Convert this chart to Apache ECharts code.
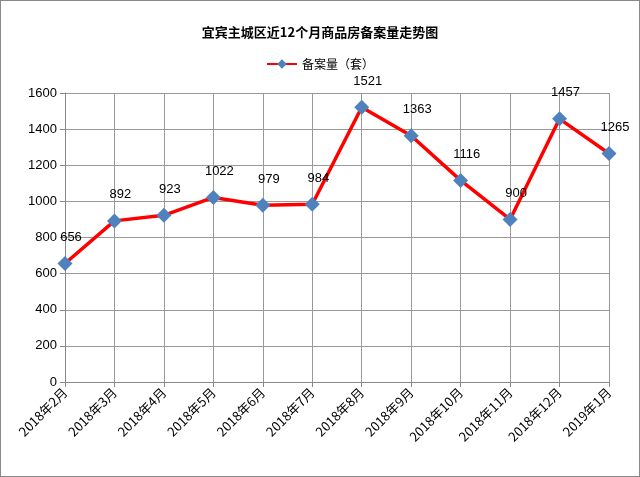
<!DOCTYPE html>
<html><head><meta charset="utf-8">
<script src="https://cdn.jsdelivr.net/npm/echarts@6/dist/echarts.min.js"></script>
<style>html,body{margin:0;padding:0;background:#fff}#c{width:638px;height:475px;border:1px solid #888}</style>
</head><body><div id="c"></div>
<script>
var categories=["2018年2月","2018年3月","2018年4月","2018年5月","2018年6月","2018年7月","2018年8月","2018年9月","2018年10月","2018年11月","2018年12月","2019年1月"];
var values=[656,892,923,1022,979,984,1521,1363,1116,900,1457,1265];
var seriesName="备案量（套）";
var chart=echarts.init(document.getElementById('c'));
chart.setOption({
  animation:false,
  title:{text:"宜宾主城区近12个月商品房备案量走势图",left:'center',top:20,textStyle:{fontSize:13,fontWeight:'bold',color:'#000',fontFamily:'Noto Sans CJK SC'}},
  legend:{top:52,left:'center',itemWidth:30,itemHeight:12,textStyle:{fontSize:12,color:'#000',fontFamily:'Noto Sans CJK SC'},data:[seriesName]},
  grid:{left:64,right:30,top:92,bottom:94},
  xAxis:{type:'category',data:categories,boundaryGap:false,
    axisLine:{lineStyle:{color:'#888'}},axisTick:{show:true,lineStyle:{color:'#888'}},
    splitLine:{show:true,lineStyle:{color:'#999'}},
    axisLabel:{rotate:45,fontSize:13,color:'#000',interval:0,fontFamily:'Noto Sans CJK SC'}},
  yAxis:{type:'value',min:0,max:1600,interval:200,
    axisLine:{show:true,lineStyle:{color:'#888'}},axisTick:{show:true},
    splitLine:{lineStyle:{color:'#999'}},
    axisLabel:{fontSize:13,color:'#000',formatter:function(v){return String(v);}}},
  series:[{name:seriesName,type:'line',data:values,symbol:'diamond',symbolSize:15,
    lineStyle:{color:'#ff0000',width:3.5},itemStyle:{color:'#4f81bd'},
    label:{show:true,position:'top',distance:12,offset:[6,0],fontSize:13,color:'#000'}}]
});
</script></body></html>
